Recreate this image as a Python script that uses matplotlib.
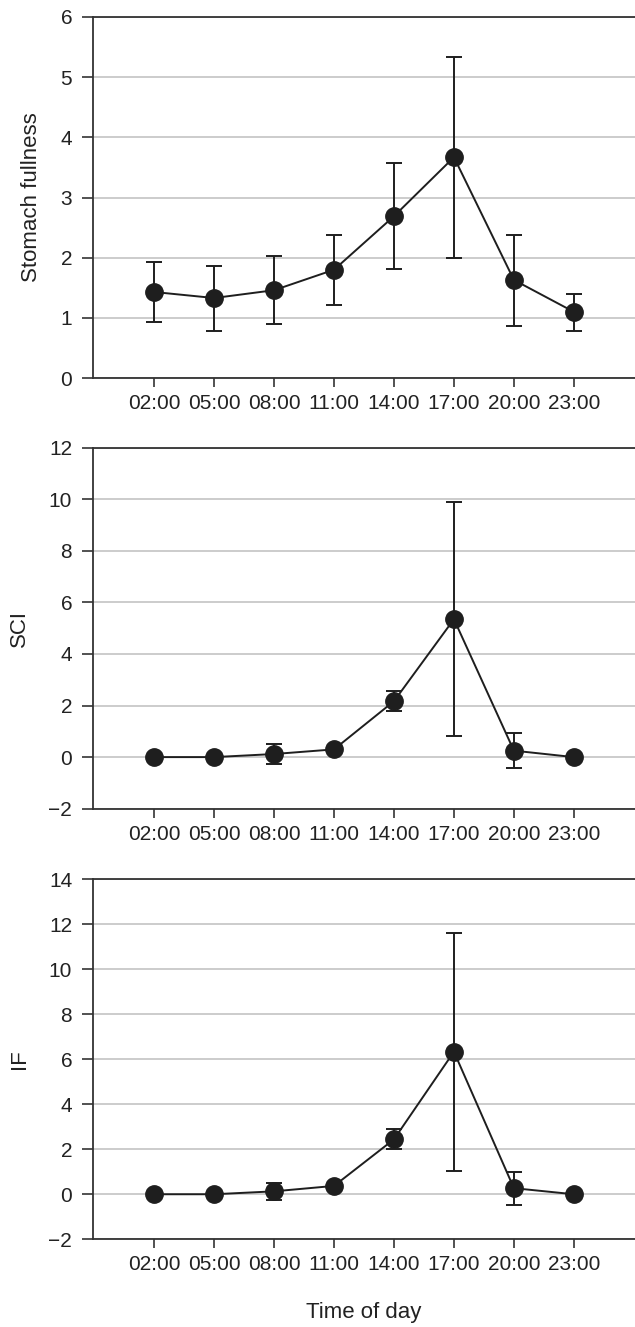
import matplotlib
matplotlib.use("Agg")
import matplotlib.pyplot as plt
import numpy as np

plt.rcParams['font.family'] = ['Liberation Sans', 'DejaVu Sans']

times = ["02:00", "05:00", "08:00", "11:00", "14:00", "17:00", "20:00", "23:00"]

fullness_mean = [1.43, 1.33, 1.46, 1.80, 2.69, 3.67, 1.63, 1.10]
fullness_upper = [1.93, 1.86, 2.02, 2.38, 3.57, 5.33, 2.38, 1.39]
fullness_lower = [0.93, 0.79, 0.90, 1.21, 1.82, 1.99, 0.87, 0.79]

sci_mean = [0.0, 0.0, 0.12, 0.30, 2.17, 5.35, 0.25, 0.0]
sci_upper = [0.0, 0.0, 0.50, 0.40, 2.56, 9.89, 0.92, 0.0]
sci_lower = [0.0, 0.0, -0.25, 0.20, 1.78, 0.83, -0.41, 0.0]

if_mean = [0.0, 0.0, 0.13, 0.37, 2.44, 6.33, 0.27, 0.0]
if_upper = [0.0, 0.0, 0.52, 0.47, 2.89, 11.59, 1.00, 0.0]
if_lower = [0.0, 0.0, -0.25, 0.27, 2.03, 1.05, -0.47, 0.0]

panels = [
    ("Stomach fullness", fullness_mean, fullness_upper, fullness_lower, (0, 6), np.arange(0, 7, 1), (0.7151, 0.9872), -0.095),
    ("SCI", sci_mean, sci_upper, sci_lower, (-2, 12), np.arange(-2, 13, 2), (0.3906, 0.6626), -0.117),
    ("IF", if_mean, if_upper, if_lower, (-2, 14), np.arange(-2, 15, 2), (0.0661, 0.3376), -0.117),
]

fig = plt.figure(figsize=(6.35, 13.27), dpi=100)
dark = "#1e1e1e"
x = np.arange(len(times))

for i, (label, m, up, lo, ylim, yt, (b, t), lx) in enumerate(panels):
    ax = fig.add_axes([0.1465, b, 1.0 - 0.1465, t - b])
    m = np.array(m); up = np.array(up); lo = np.array(lo)
    yerr = np.vstack([m - lo, up - m])
    ax.errorbar(x, m, yerr=yerr, fmt='-o', color=dark, ecolor=dark,
                markersize=12.5, linewidth=1.4, elinewidth=1.4,
                capsize=5.8, capthick=1.4, zorder=3)
    ax.set_xlim(-1.02, 8.02)
    ax.set_ylim(*ylim)
    ax.set_yticks(yt)
    ax.set_yticklabels([("\u2212" + str(-v)) if v < 0 else str(v) for v in yt])
    ax.set_xticks(x)
    ax.set_xticklabels(times)
    ax.yaxis.grid(True, color="#c8c8c8", linewidth=1.3, zorder=0)
    ax.set_axisbelow(True)
    for s in ['left', 'bottom', 'top']:
        ax.spines[s].set_color("#333333")
        ax.spines[s].set_linewidth(1.3)
    ax.spines['right'].set_visible(False)
    ax.tick_params(axis='y', direction='out', length=8, width=1.2, color="#333333",
                   labelsize=15, pad=7, labelcolor="#222222")
    ax.tick_params(axis='x', direction='out', length=6.5, width=1.2, color="#333333",
                   labelsize=15, pad=5, labelcolor="#222222")
    ax.set_ylabel(label, fontsize=16, color="#222222")
    ax.yaxis.set_label_coords(lx, 0.5)
    if i == 2:
        ax.set_xlabel("Time of day", fontsize=16, color="#222222", labelpad=20)

fig.savefig("out.png", dpi=100)
